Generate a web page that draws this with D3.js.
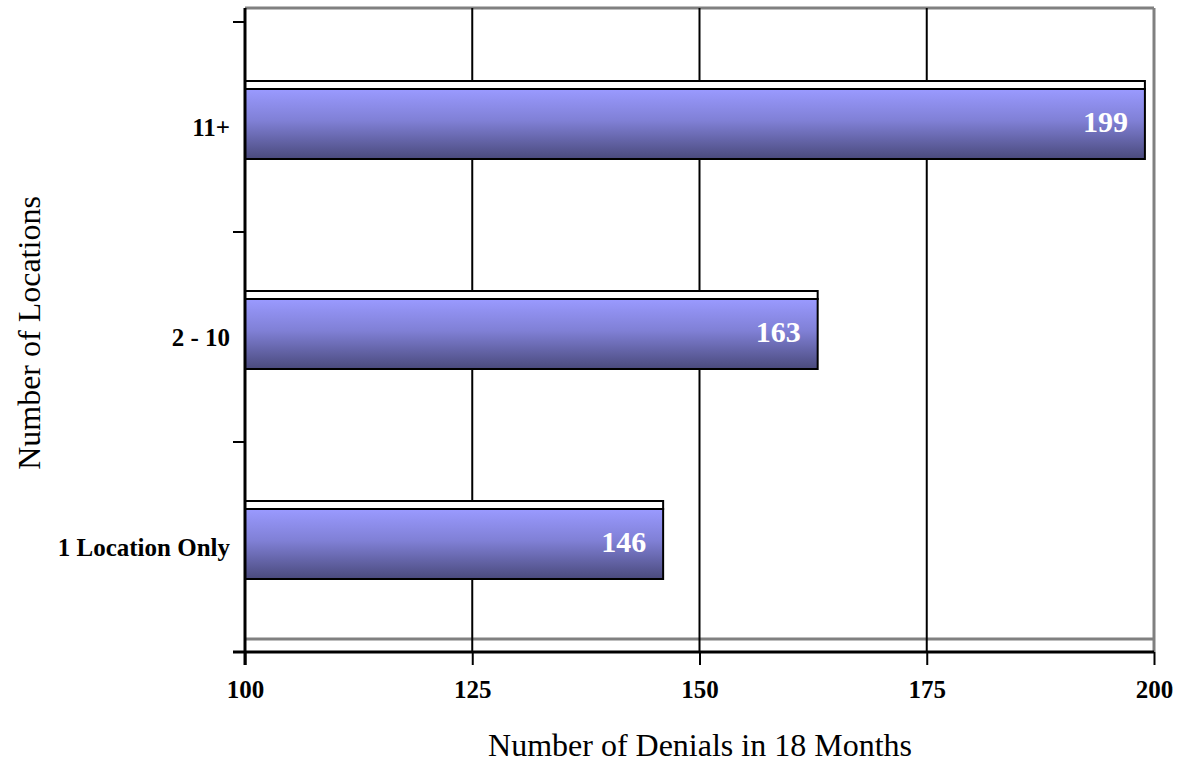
<!DOCTYPE html>
<html>
<head>
<meta charset="utf-8">
<script src="https://cdn.jsdelivr.net/npm/d3@7"></script>
<style>
  html, body { margin: 0; padding: 0; background: #fff; }
  svg { display: block; }
  text { font-family: "Liberation Serif", "Times New Roman", serif; }
</style>
</head>
<body>
<svg id="chart" width="1181" height="763"></svg>
<script>
// Denials over 18 months, grouped by number of locations
const categories = ["1 Location Only", "2 - 10", "11+"];
const denials = [146, 163, 199];
const xTicks = [100, 125, 150, 175, 200];
const xTitle = "Number of Denials in 18 Months";
const yTitle = "Number of Locations";

(function () {
const svg = d3.select("#chart");
const plotLeft = 245, plotRight = 1154, plotTop = 8, axisY = 652, floorY = 639, bandTop = 22;
const serif = "Liberation Serif, Times New Roman, serif";

const x = d3.scaleLinear().domain([100, 200]).range([plotLeft, plotRight]);
const y = d3.scaleBand().domain(categories).range([axisY, bandTop]).paddingInner(0).paddingOuter(0);

// Bar fill gradient
const defs = svg.append("defs");
const grad = defs.append("linearGradient").attr("id", "barGrad")
  .attr("x1", 0).attr("y1", 0).attr("x2", 0).attr("y2", 1);
grad.append("stop").attr("offset", "0%").attr("stop-color", "#9a9aff");
grad.append("stop").attr("offset", "45%").attr("stop-color", "#8080d6");
grad.append("stop").attr("offset", "100%").attr("stop-color", "#4a4a7c");

// Plot frame: grey top, right and floor lines
svg.append("line").attr("x1", plotLeft).attr("x2", plotRight).attr("y1", plotTop).attr("y2", plotTop)
  .attr("stroke", "#808080").attr("stroke-width", 3);
svg.append("line").attr("x1", plotRight).attr("x2", plotRight).attr("y1", plotTop).attr("y2", axisY)
  .attr("stroke", "#808080").attr("stroke-width", 3);
svg.append("line").attr("x1", plotLeft).attr("x2", plotRight).attr("y1", floorY).attr("y2", floorY)
  .attr("stroke", "#808080").attr("stroke-width", 3);

// Vertical gridlines
svg.append("g").selectAll("line")
  .data(xTicks.filter(d => d > 100 && d < 200))
  .join("line")
  .attr("x1", d => x(d)).attr("x2", d => x(d))
  .attr("y1", plotTop).attr("y2", axisY)
  .attr("stroke", "#000").attr("stroke-width", 2);

// Bars with a shallow top face
const barH = 70, faceH = 8;
const barTop = d => y(d.c) + y.bandwidth() / 2 - barH / 2 - 3;
const bars = svg.append("g").selectAll("g")
  .data(categories.map((c, i) => ({ c, v: denials[i] })))
  .join("g");

bars.append("rect")
  .attr("x", x(100))
  .attr("y", d => barTop(d) - faceH)
  .attr("width", d => x(d.v) - x(100))
  .attr("height", faceH)
  .attr("fill", "#fff").attr("stroke", "#000").attr("stroke-width", 2);

bars.append("rect")
  .attr("x", x(100))
  .attr("y", barTop)
  .attr("width", d => x(d.v) - x(100))
  .attr("height", barH)
  .attr("fill", "url(#barGrad)").attr("stroke", "#000").attr("stroke-width", 2);

bars.append("text")
  .attr("x", d => x(d.v) - 17)
  .attr("y", d => barTop(d) + 43)
  .attr("text-anchor", "end")
  .attr("font-size", 30).attr("font-weight", "bold").attr("fill", "#fff")
  .text(d => d.v);

// X axis
const xAxis = svg.append("g").attr("transform", `translate(0,${axisY})`)
  .call(d3.axisBottom(x).tickValues(xTicks).tickSize(13).tickFormat(d3.format("d")));
xAxis.select(".domain").attr("d", `M${plotLeft - 12},0H${plotRight}`).attr("stroke-width", 3);
xAxis.selectAll(".tick line").attr("stroke-width", 2);
xAxis.selectAll(".tick text").attr("y", 46).attr("dy", null)
  .attr("font-size", 25).attr("font-weight", "bold")
  .attr("font-family", serif).attr("fill", "#000");

// Y axis: ticks at band boundaries, labels at band centres
const yAxis = svg.append("g").attr("transform", `translate(${plotLeft},0)`);
yAxis.append("line").attr("x1", 0).attr("x2", 0).attr("y1", plotTop).attr("y2", axisY + 13)
  .attr("stroke", "#000").attr("stroke-width", 3);
const bounds = categories.map(c => y(c)).concat([axisY]);
yAxis.selectAll(".bt").data(bounds).join("line").attr("class", "bt")
  .attr("x1", -12).attr("x2", 0).attr("y1", d => d).attr("y2", d => d)
  .attr("stroke", "#000").attr("stroke-width", 2);
yAxis.selectAll(".cl").data(categories).join("text").attr("class", "cl")
  .attr("x", -15)
  .attr("y", d => y(d) + y.bandwidth() / 2 + 9)
  .attr("text-anchor", "end")
  .attr("font-size", 25).attr("font-weight", "bold")
  .text(d => d);

// Axis titles
svg.append("text").attr("x", 700).attr("y", 756).attr("text-anchor", "middle")
  .attr("font-size", 32).text(xTitle);
svg.append("text").attr("transform", "translate(40,333) rotate(-90)")
  .attr("text-anchor", "middle").attr("font-size", 32).text(yTitle);
})();
</script>
</body>
</html>
